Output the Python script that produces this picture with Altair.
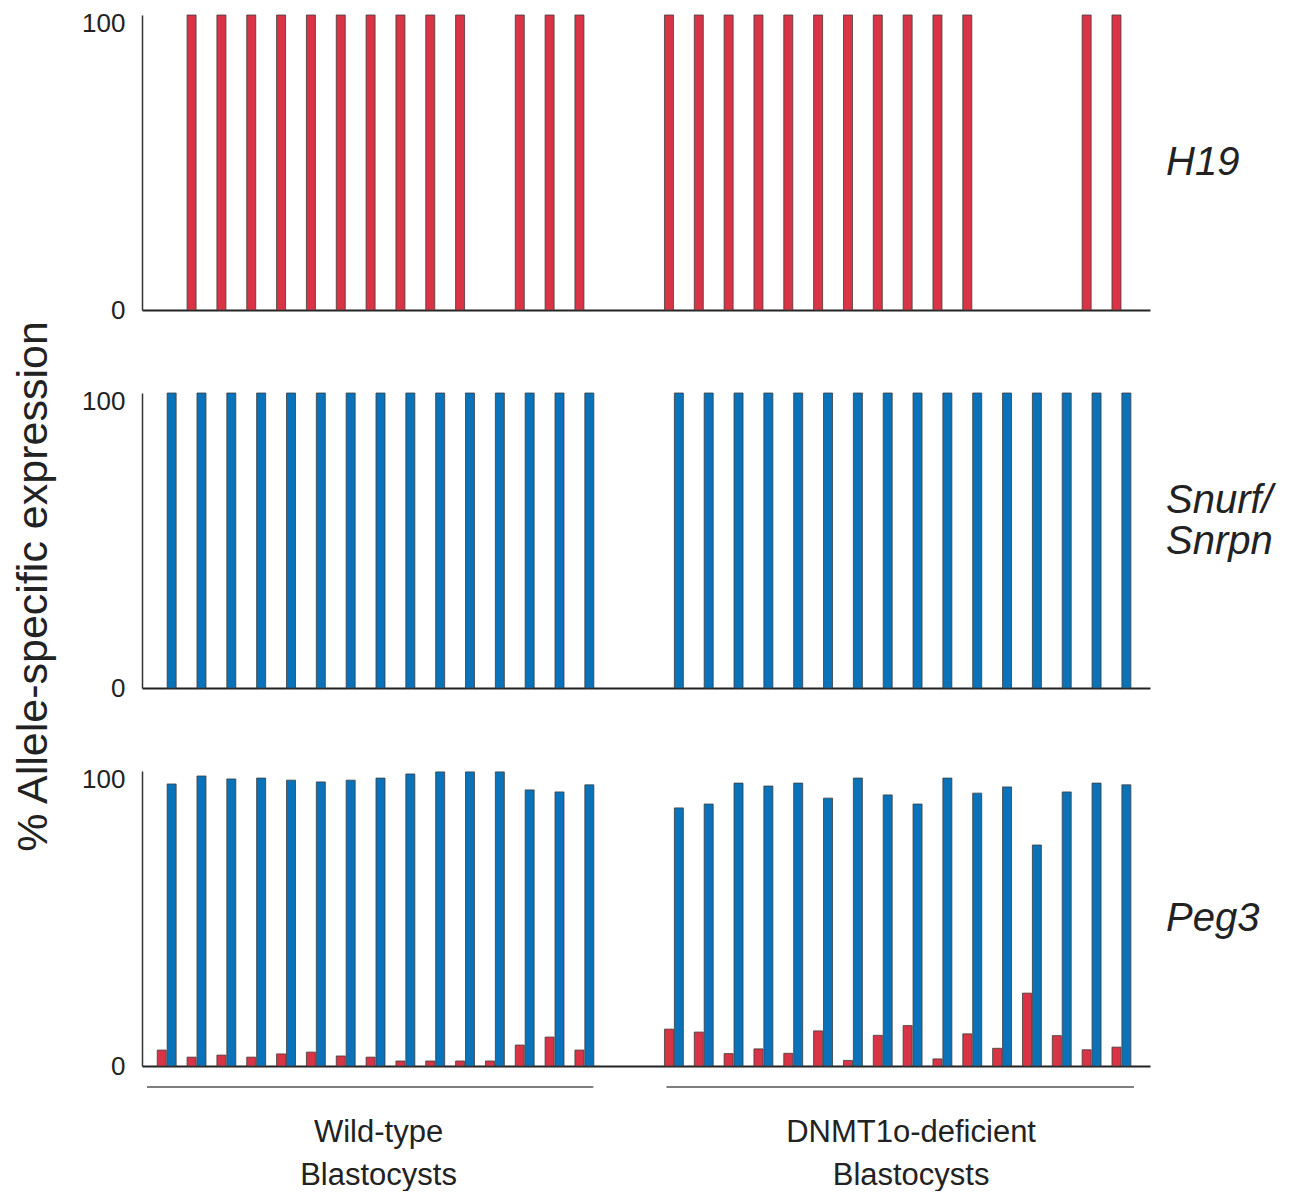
import altair as alt
import pandas as pd

# ---------------- data ----------------
GENES = ["H19", "Snurf/Snrpn", "Peg3"]
GENE_LABELS = ["H19", "Snurf/\nSnrpn", "Peg3"]
GROUPS = ["Wild-type", "DNMT1o-deficient"]
GROUP_LABELS = ["Wild-type\nBlastocysts", "DNMT1o-deficient\nBlastocysts"]
ALLELES = ["maternal", "paternal"]

# % allele-specific expression per blastocyst (None = not shown)
h19_wt_maternal = [None, 100, 100, 100, 100, 100, 100, 100, 100, 100, 100, None, 100, 100, 100]
h19_dn_maternal = [100, 100, 100, 100, 100, 100, 100, 100, 100, 100, 100, None, None, None, 100, 100]

snrpn_wt_paternal = [100, 100, 100, 100, 100, 100, 100, 100, 100, 100, 100, 100, 100, 100, 100]
snrpn_dn_paternal = [100, 100, 100, 100, 100, 100, 100, 100, 100, 100, 100, 100, 100, 100, 100, 100]

peg3_wt_maternal = [5.4, 3.0, 3.7, 3.0, 4.1, 4.7, 3.4, 3.0, 1.7, 1.7, 1.7, 1.7, 7.1, 9.8, 5.4]
peg3_wt_paternal = [95.6, 98.3, 97.3, 97.6, 96.9, 96.3, 96.9, 97.6, 99.0, 99.7, 99.7, 99.7, 93.6, 92.9, 95.3]
peg3_dn_maternal = [12.5, 11.5, 4.2, 5.8, 4.3, 11.9, 1.9, 10.4, 13.7, 2.4, 10.9, 6.0, 24.7, 10.3, 5.5, 6.4]
peg3_dn_paternal = [87.5, 88.8, 95.9, 94.9, 95.9, 90.8, 97.6, 91.9, 88.8, 97.6, 92.5, 94.6, 74.9, 92.9, 95.9, 95.3]

SERIES = {
    ("H19", "Wild-type", "maternal"): h19_wt_maternal,
    ("H19", "DNMT1o-deficient", "maternal"): h19_dn_maternal,
    ("Snurf/Snrpn", "Wild-type", "paternal"): snrpn_wt_paternal,
    ("Snurf/Snrpn", "DNMT1o-deficient", "paternal"): snrpn_dn_paternal,
    ("Peg3", "Wild-type", "maternal"): peg3_wt_maternal,
    ("Peg3", "Wild-type", "paternal"): peg3_wt_paternal,
    ("Peg3", "DNMT1o-deficient", "maternal"): peg3_dn_maternal,
    ("Peg3", "DNMT1o-deficient", "paternal"): peg3_dn_paternal,
}

# ---------------- layout / style ----------------
RED = "#d93446"
BLUE = "#0a72b9"
W, H = 1008, 295
GAP_SLOTS = 2          # empty sample slots between the two groups
PAIR_OFFSET = 0.166    # half distance between maternal/paternal bars (in slots)
X_DOMAIN = [-0.66, 32.79]
FONT = "Liberation Sans"
LABEL_SHIFT = {"Wild-type": 0.1, "DNMT1o-deficient": 0.45}   # group caption nudge (slots)
BRACKET_PAD = {"Wild-type": (0.66, 0.3), "DNMT1o-deficient": (0.25, 0.42)}

group_start = {"Wild-type": 0, "DNMT1o-deficient": len(peg3_wt_paternal) + GAP_SLOTS}

rows = []
for (gene, group, allele), vals in SERIES.items():
    for i, v in enumerate(vals):
        if v is None:
            continue
        slot = group_start[group] + i
        off = -PAIR_OFFSET if allele == "maternal" else PAIR_OFFSET
        rows.append(dict(gene=gene, group=group, allele=allele, sample=i + 1,
                         value=v, xpos=slot + off))
df = pd.DataFrame(rows)

grows = []
for g, lab in zip(GROUPS, GROUP_LABELS):
    n = len(peg3_wt_paternal) if g == "Wild-type" else len(peg3_dn_paternal)
    s0 = group_start[g]
    s1 = s0 + n - 1
    pl, pr = BRACKET_PAD[g]
    grows.append(dict(group=g, label=lab, x1=s0 - pl, x2=s1 + pr,
                      xc=(s0 + s1) / 2 + LABEL_SHIFT[g]))
gdf = pd.DataFrame(grows)

xscale = alt.Scale(domain=X_DOMAIN, nice=False, zero=False)


def xaxis():
    return alt.Axis(title=None, labels=False, ticks=False, grid=False,
                    domainColor="#222222", domainWidth=2)


def panel(gene, label, label_dy=0, ytitle=None, brackets=False):
    d = df[df.gene == gene]
    bars = alt.Chart(d).mark_bar(size=9, stroke="#3c3c3c", strokeWidth=0.8).encode(
        x=alt.X("xpos:Q", scale=xscale, axis=xaxis()),
        y=alt.Y("value:Q", scale=alt.Scale(domain=[0, 100], nice=False),
                axis=alt.Axis(title=None, values=[0, 100], ticks=False, grid=False,
                              labelFontSize=26, labelPadding=17, labelFont=FONT,
                              labelColor="#222222", domainColor="#333333", domainWidth=1.5,
                              labelOffset={"condition": {"test": "datum.value == 100", "value": 8},
                                           "value": 0})),
        color=alt.Color("allele:N", scale=alt.Scale(domain=ALLELES, range=[RED, BLUE]), legend=None),
        tooltip=["gene", "group", "sample", "allele", "value"],
    )
    glab = alt.Chart(pd.DataFrame({"label": [label]})).mark_text(
        align="left", baseline="middle", fontSize=40, fontStyle="italic", font=FONT,
        color="#222222", lineBreak="\n", lineHeight=41, dy=label_dy,
    ).encode(x=alt.value(W + 16), y=alt.value(H / 2), text="label:N")
    layers = [bars, glab]
    if ytitle:
        yt = alt.Chart(pd.DataFrame({"t": [ytitle]})).mark_text(
            angle=270, align="center", baseline="middle", fontSize=43, font=FONT, color="#222222",
        ).encode(x=alt.value(-108), y=alt.value(H / 2 + 46), text="t:N")
        layers.append(yt)
    if brackets:
        brk = alt.Chart(gdf).mark_rule(color="#555555", strokeWidth=1.3).encode(
            x=alt.X("x1:Q", scale=xscale, axis=xaxis()), x2="x2:Q", y=alt.value(H + 21))
        gtxt = alt.Chart(gdf).mark_text(
            fontSize=31, font=FONT, color="#222222", lineBreak="\n", lineHeight=43,
            baseline="middle", align="center",
        ).encode(x=alt.X("xc:Q", scale=xscale, axis=xaxis()), y=alt.value(H + 67), text="label:N")
        layers += [brk, gtxt]
    return alt.layer(*layers).properties(width=W, height=H)


p1 = panel("H19", GENE_LABELS[0])
p2 = panel("Snurf/Snrpn", GENE_LABELS[1], label_dy=-40, ytitle="% Allele-specific expression")
p3 = panel("Peg3", GENE_LABELS[2], brackets=True)

chart = alt.vconcat(p1, p2, p3, spacing=83, bounds="flush").configure_view(
    stroke=None
).properties(padding={"left": 4, "top": 2, "right": 5, "bottom": 0})

chart.save("out.html", embed_options={"renderer": "svg", "actions": False})
